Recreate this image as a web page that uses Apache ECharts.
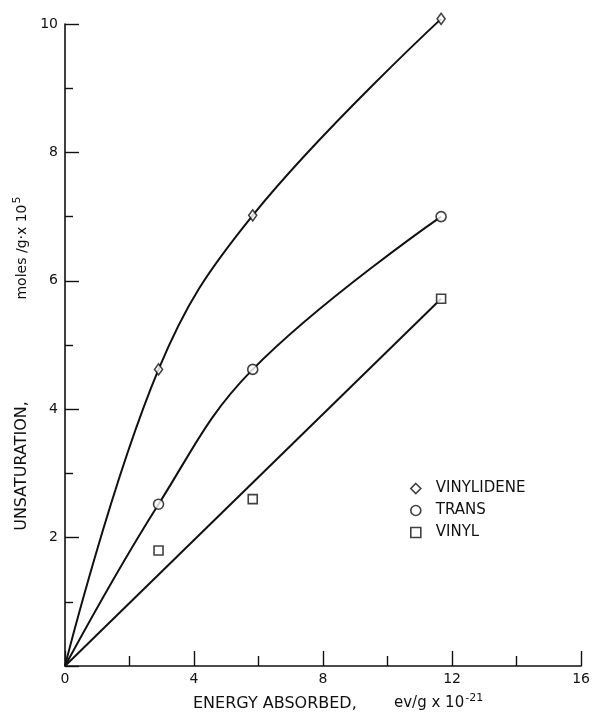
<!DOCTYPE html>
<html>
<head>
<meta charset="utf-8">
<script src="https://cdn.jsdelivr.net/npm/echarts@6/dist/echarts.min.js"></script>
<style>
html,body{margin:0;padding:0;background:#fff;}
#chart{width:593px;height:713px;}
</style>
</head>
<body>
<div id="chart"></div>
<script>
// Data
var energy = [2.9, 5.82, 11.66];          // ev/g x 10^-21
var vinylidene = [4.62, 7.02, 10.08];     // moles/g x 10^5
var trans = [2.52, 4.62, 7.0];
var vinyl = [1.8, 2.6, 5.72];
var seriesNames = ['VINYLIDENE', 'TRANS', 'VINYL'];
var xTicks = [0, 4, 8, 12, 16];
var yTicks = [2, 4, 6, 8, 10];

function pts(ys) { return energy.map(function (x, i) { return [x, ys[i]]; }); }
var origin = [0, 0];

var INK = '#111';
var FONT = 'DejaVu Sans';
var markerStyle = { color: '#fff', borderColor: INK, borderWidth: 1.6 };

var chart = echarts.init(document.getElementById('chart'));
chart.setOption({
  animation: false,
  backgroundColor: '#fff',
  grid: { left: 65, right: 8, top: 24, bottom: 47, containLabel: false },
  xAxis: {
    type: 'value', min: 0, max: 16, interval: 4,
    axisLine: { show: true, onZero: false, lineStyle: { color: INK, width: 1.6 } },
    axisTick: { show: true, inside: true, length: 15, lineStyle: { color: INK, width: 1.4 } },
    minorTick: { show: true, splitNumber: 2, length: 10, lineStyle: { color: INK, width: 1.4 } },
    splitLine: { show: false },
    axisLabel: {
      color: INK, fontFamily: FONT, fontSize: 14, margin: 6,
      formatter: function (v) { return xTicks.indexOf(v) >= 0 ? String(v) : ''; }
    }
  },
  yAxis: {
    type: 'value', min: 0, max: 10, interval: 2,
    axisLine: { show: true, onZero: false, lineStyle: { color: INK, width: 1.6 } },
    axisTick: { show: true, inside: true, length: 14, lineStyle: { color: INK, width: 1.4 } },
    minorTick: { show: true, splitNumber: 2, length: 8, lineStyle: { color: INK, width: 1.4 } },
    splitLine: { show: false },
    axisLabel: {
      color: INK, fontFamily: FONT, fontSize: 14, margin: 7,
      formatter: function (v) { return yTicks.indexOf(v) >= 0 ? String(v) : ''; }
    }
  },
  legend: {
    orient: 'vertical', left: 405, top: 476, itemWidth: 10, itemHeight: 10, itemGap: 7,
    textStyle: { color: INK, fontFamily: FONT, fontSize: 15, padding: [0, 0, 0, 10] },
    data: [
      { name: seriesNames[0], icon: 'diamond', itemStyle: markerStyle },
      { name: seriesNames[1], icon: 'circle', itemStyle: markerStyle },
      { name: seriesNames[2], icon: 'rect', itemStyle: markerStyle }
    ]
  },
  series: [
    { type: 'line', name: 'vinylidene-curve', data: [origin].concat(pts(vinylidene)), smooth: 0.4,
      showSymbol: false, clip: false, lineStyle: { color: INK, width: 2 }, z: 2, silent: true },
    { type: 'line', name: 'trans-curve', data: [origin].concat(pts(trans)), smooth: 0.4,
      showSymbol: false, clip: false, lineStyle: { color: INK, width: 2 }, z: 2, silent: true },
    { type: 'line', name: 'vinyl-line', data: [origin, pts(vinyl)[2]],
      showSymbol: false, clip: false, lineStyle: { color: INK, width: 2 }, z: 2, silent: true },
    { type: 'scatter', name: seriesNames[0], data: pts(vinylidene), symbol: 'diamond', clip: false,
      symbolSize: [8, 11], itemStyle: markerStyle, z: 5 },
    { type: 'scatter', name: seriesNames[1], data: pts(trans), symbol: 'circle', clip: false,
      symbolSize: 10, itemStyle: markerStyle, z: 5 },
    { type: 'scatter', name: seriesNames[2], data: pts(vinyl), symbol: 'rect', clip: false,
      symbolSize: 9, itemStyle: markerStyle, z: 5 }
  ],
  graphic: [
    { type: 'text', x: 22, y: 466, rotation: Math.PI / 2,
      style: { text: 'UNSATURATION,', fill: INK, font: '16px "DejaVu Sans"', align: 'center', verticalAlign: 'middle' } },
    { type: 'text', x: 22, y: 248, rotation: Math.PI / 2,
      style: { text: '{a|moles /g·x 10}{s|5}', align: 'center', verticalAlign: 'middle',
        rich: { a: { fill: INK, fontFamily: FONT, fontSize: 14 },
                s: { fill: INK, fontFamily: FONT, fontSize: 11, padding: [0, 0, 9, 1] } } } },
    { type: 'text', x: 193, y: 704,
      style: { text: 'ENERGY ABSORBED,', fill: INK, font: '16px "DejaVu Sans"', align: 'left', verticalAlign: 'middle' } },
    { type: 'text', x: 394, y: 703,
      style: { text: '{a|ev/g x 10}{s|-21}', align: 'left', verticalAlign: 'middle',
        rich: { a: { fill: INK, fontFamily: FONT, fontSize: 15 },
                s: { fill: INK, fontFamily: FONT, fontSize: 11, padding: [0, 0, 9, 1] } } } }
  ]
});
</script>
</body>
</html>
